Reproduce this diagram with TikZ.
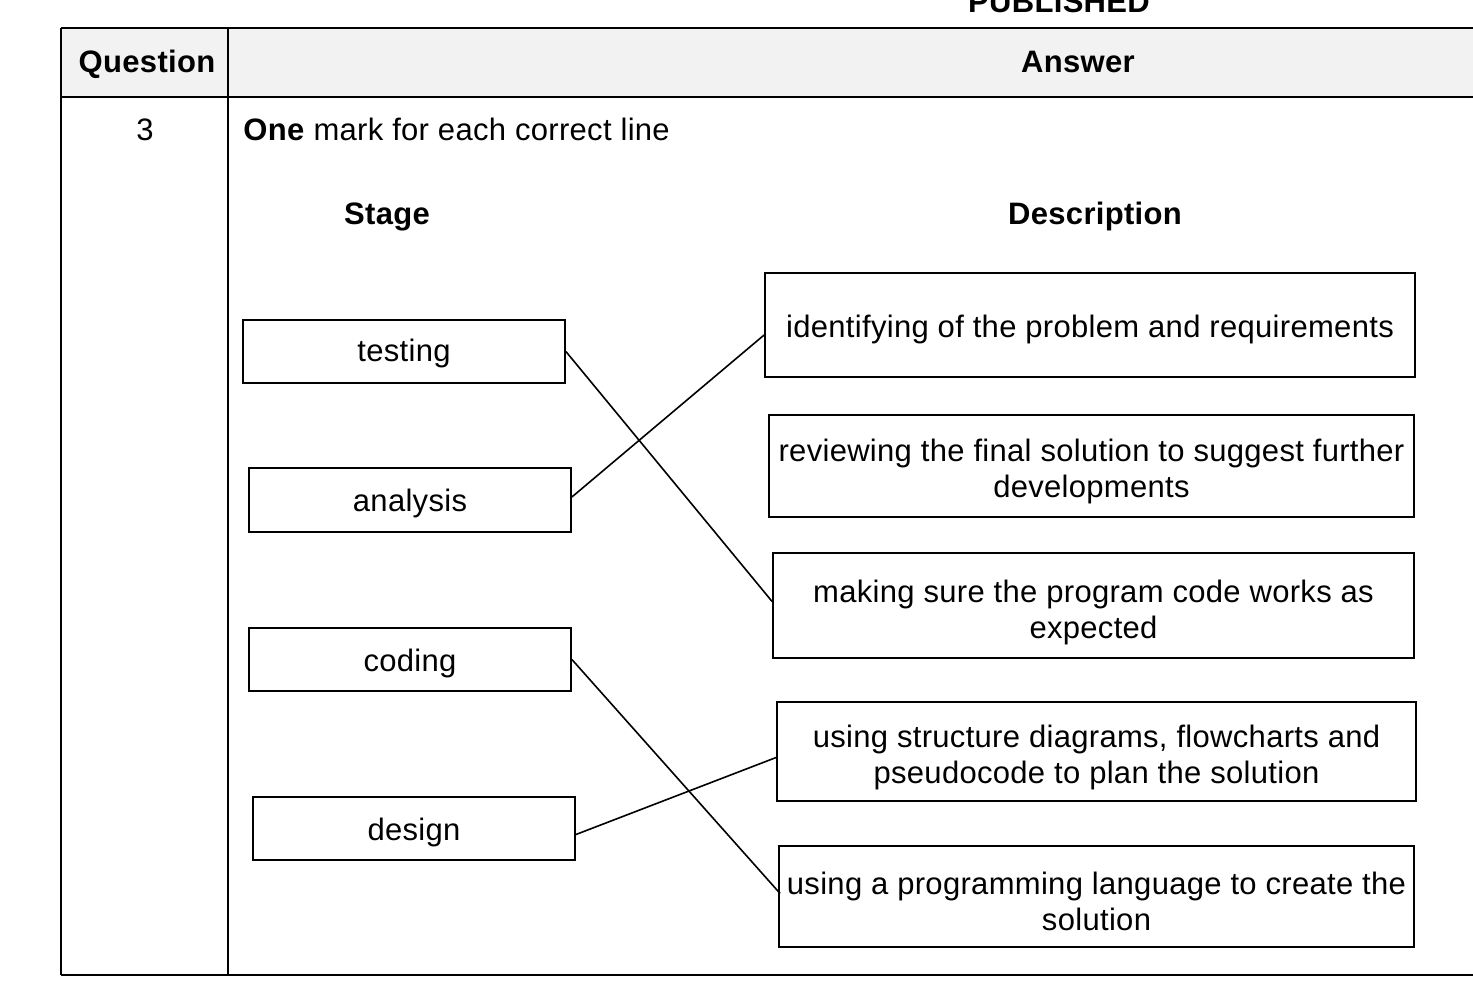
\documentclass[tikz,border=0pt]{standalone}
\usepackage{fontspec}
\setmainfont[LetterSpace=1.0]{Liberation Sans}
\definecolor{hdr}{HTML}{F2F2F2}
\begin{document}
\begin{tikzpicture}[x=0.5pt,y=-0.5pt,
  txt/.style={font=\fontsize{15.5}{18}\selectfont, inner sep=0pt, align=center},
  bld/.style={font=\fontsize{15.5}{18}\selectfont\bfseries, inner sep=0pt},
  box/.style={draw, line width=0.9pt, inner sep=0pt},
  conn/.style={line width=0.8pt}]
\useasboundingbox (0,0) rectangle (1473,1001);
\clip (0,0) rectangle (1473,1001);
% header
\fill[hdr] (61,28) rectangle (1480,97);
\draw[line width=1.4pt] (61,28) -- (1480,28);
\draw[line width=1.4pt] (61,97) -- (1480,97);
\draw[line width=1.4pt] (61,975) -- (1480,975);
\draw[line width=1.1pt] (61,28) -- (61,975);
\draw[line width=1.1pt] (228,28) -- (228,975);
\node[bld] (pub) at (1059,2) {PUBLISHED};
\node[bld] (qh) at (147,64) {Question};
\node[bld] (ah) at (1078,62) {Answer};
\node[txt] (qn) at (145,130) {3};
\node[txt, anchor=west] (mark) at (243,129) {\textbf{One} mark for each correct line};
\node[bld] (stage) at (387,217) {Stage};
\node[bld] (desc) at (1095,216) {Description};
% left boxes
\node[box, minimum width=161pt, minimum height=31.5pt] (testing) at (404,351.5) {};
\node[box, minimum width=161pt, minimum height=32pt] (analysis) at (410,500) {};
\node[box, minimum width=161pt, minimum height=31.5pt] (coding) at (410,659.5) {};
\node[box, minimum width=161pt, minimum height=31.5pt] (design) at (414,828.5) {};
\node[txt] (testingT) at ([yshift=-1.2pt]testing.center) {testing};
\node[txt] (analysisT) at ([yshift=-1.5pt]analysis.center) {analysis};
\node[txt] (codingT) at ([yshift=-2pt]coding.center) {coding};
\node[txt] (designT) at ([yshift=-2pt]design.center) {design};
% right boxes
\node[box, minimum width=325pt, minimum height=52pt] (ident) at (1090,325) {};
\node[box, minimum width=322.5pt, minimum height=51pt] (review) at (1091.5,466) {};
\node[box, minimum width=320.5pt, minimum height=52.5pt] (making) at (1093.5,605.5) {};
\node[box, minimum width=319.5pt, minimum height=49.5pt] (struct) at (1096.5,751.5) {};
\node[box, minimum width=317.5pt, minimum height=50.5pt] (prog) at (1096.5,896.5) {};
\node[txt] (identT) at ([yshift=-2pt]ident.center) {identifying of the problem and requirements};
\node[txt] (reviewT) at ([yshift=-2.5pt]review.center) {reviewing the final solution to suggest further\\developments};
\node[txt] (makingT) at ([yshift=-3.5pt]making.center) {making sure the program code works as\\expected};
\node[txt] (structT) at ([yshift=-3pt]struct.center) {using structure diagrams, flowcharts and\\pseudocode to plan the solution};
\node[txt] (progT) at ([yshift=-2.5pt]prog.center) {using a programming language to create the\\solution};
% connectors
\draw[conn] (testing.east) -- ([yshift=2pt]making.west);
\draw[conn] ([yshift=1.5pt]analysis.east) -- ([yshift=-5pt]ident.west);
\draw[conn] (coding.east) -- ([yshift=1.5pt,xshift=1pt]prog.west);
\draw[conn] ([yshift=-3pt]design.east) -- ([yshift=-3pt]struct.west);
\end{tikzpicture}
\end{document}
